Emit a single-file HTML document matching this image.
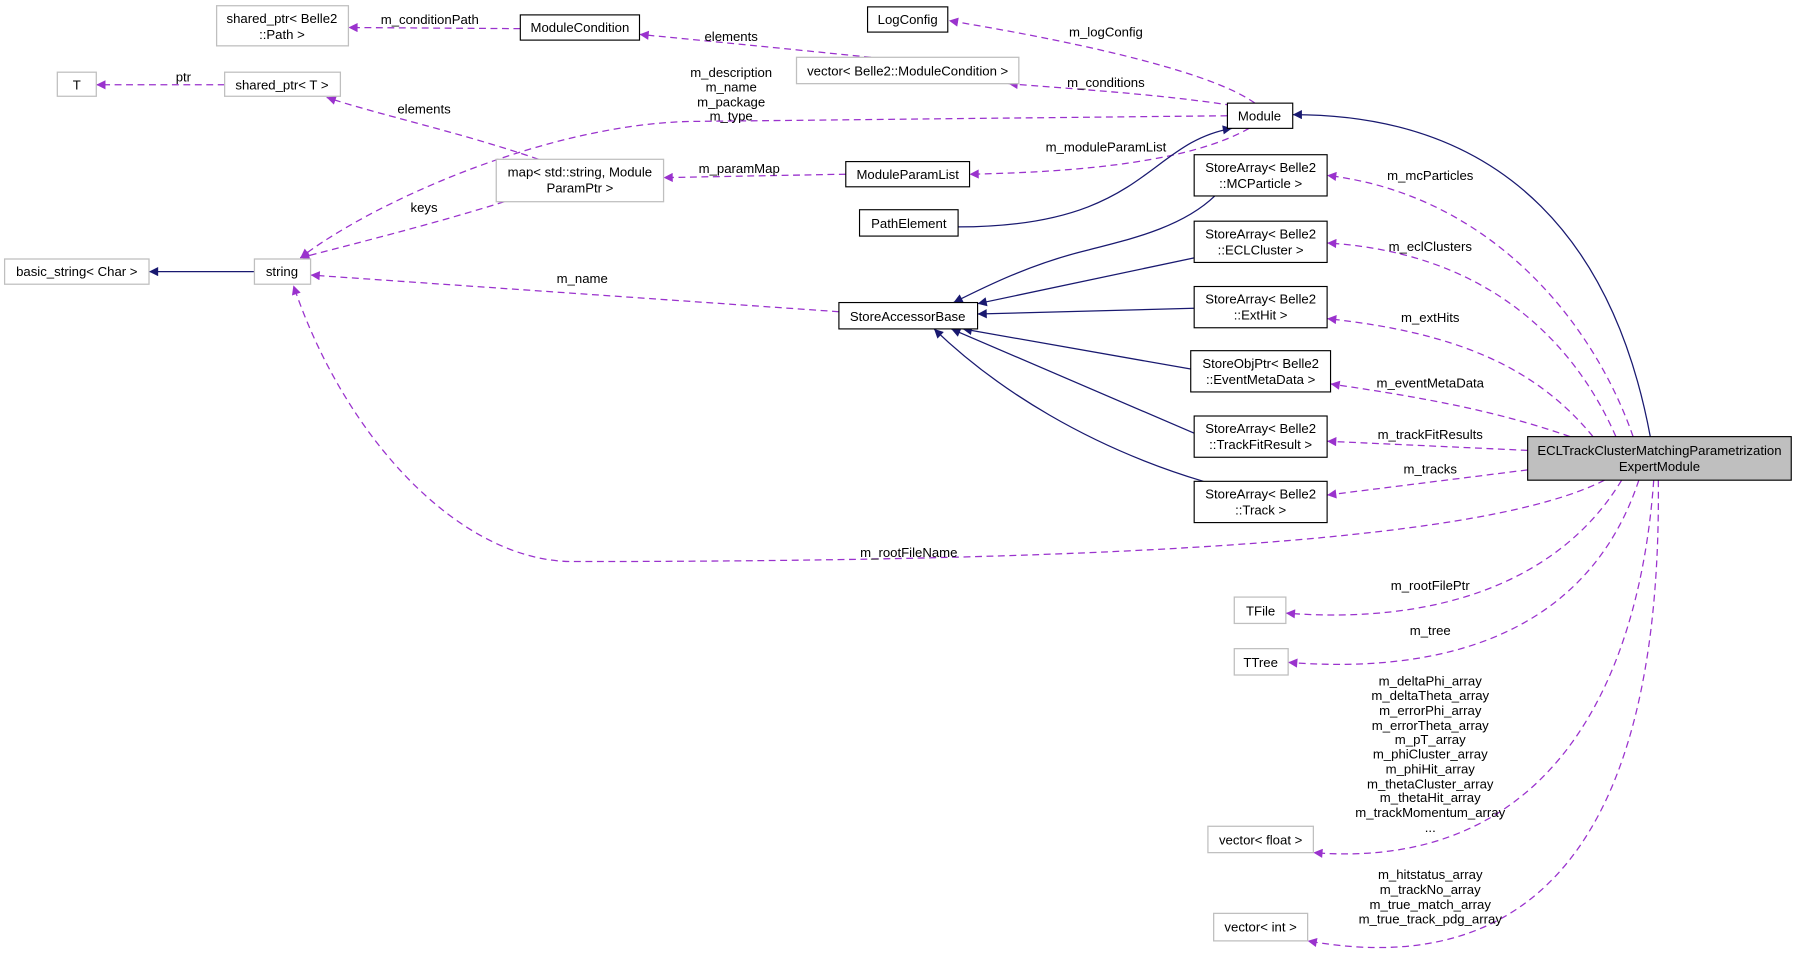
<!DOCTYPE html>
<html><head><meta charset="utf-8"><style>
html,body{margin:0;padding:0;background:#fff;}
svg{display:block;}
text{font-family:"Liberation Sans",Arial,sans-serif;font-size:11.5px;fill:#000;}
.g{fill:#fff;stroke:#bfbfbf;stroke-width:1.1;}
.b{fill:#fff;stroke:#000;stroke-width:1;}
.s{fill:none;stroke:#191970;stroke-width:1.1;}
.d{fill:none;stroke:#9a32cd;stroke-width:1.1;stroke-dasharray:6,4;}
</style></head><body>
<svg width="1797" height="963" viewBox="0 0 1568 840.3" xmlns="http://www.w3.org/2000/svg">
<defs>
<marker id="an" viewBox="0 0 10 10" refX="10" refY="5" markerWidth="10" markerHeight="8" markerUnits="userSpaceOnUse" orient="auto"><path d="M0,0 L10,5 L0,10 z" fill="#191970"/></marker>
<marker id="ap" viewBox="0 0 10 10" refX="10" refY="5" markerWidth="10" markerHeight="8" markerUnits="userSpaceOnUse" orient="auto"><path d="M0,0 L10,5 L0,10 z" fill="#9a32cd"/></marker>
</defs>
<g text-anchor="middle">
<path class="s" marker-end="url(#an)" d="M1440,381 C1410,220 1320,100 1128,100"/>
<path class="d" marker-end="url(#ap)" d="M1071,101 L600,106 C470,110 320,180 262,225"/>
<path class="d" marker-end="url(#ap)" d="M1095,90 C1060,65 960,40 828,18"/>
<path class="d" marker-end="url(#ap)" d="M1075,92 C1010,82 940,78 880,73"/>
<path class="d" marker-end="url(#ap)" d="M1090,112 C1040,140 950,150 846,152"/>
<path class="s" marker-end="url(#an)" d="M836,198 C1000,198 1000,125 1075,112"/>
<path class="d" marker-end="url(#ap)" d="M760,50 C680,42 620,36 558,30"/>
<path class="d" marker-end="url(#ap)" d="M454,25 L304,24"/>
<path class="d" marker-end="url(#ap)" d="M196,74 L84,74"/>
<path class="d" marker-end="url(#ap)" d="M470,139 C400,115 330,100 285,85"/>
<path class="d" marker-end="url(#ap)" d="M440,176 C380,195 300,215 262,225"/>
<path class="d" marker-end="url(#ap)" d="M738,152 L579,155"/>
<path class="s" marker-end="url(#an)" d="M222,237 L130,237"/>
<path class="d" marker-end="url(#ap)" d="M732,272 L271,240"/>
<path class="d" marker-end="url(#ap)" d="M1400,419 C1300,470 1000,490 500,490 C400,490 300,380 256,249"/>
<path class="s" marker-end="url(#an)" d="M1060,171 C1030,200 980,210 950,218 C900,230 860,250 832,264"/>
<path class="s" marker-end="url(#an)" d="M1042,225 L853,265"/>
<path class="s" marker-end="url(#an)" d="M1042,269 L853,274"/>
<path class="s" marker-end="url(#an)" d="M1039,322 L840,287"/>
<path class="s" marker-end="url(#an)" d="M1042,378 L830,287"/>
<path class="s" marker-end="url(#an)" d="M1050,420 C950,390 870,340 815,287"/>
<path class="d" marker-end="url(#ap)" d="M1425,381 C1390,280 1300,170 1158,153"/>
<path class="d" marker-end="url(#ap)" d="M1410,381 C1370,290 1290,220 1158,212"/>
<path class="d" marker-end="url(#ap)" d="M1390,381 C1340,320 1270,290 1158,278"/>
<path class="d" marker-end="url(#ap)" d="M1370,381 C1310,360 1250,348 1161,335"/>
<path class="d" marker-end="url(#ap)" d="M1333,393 L1158,385"/>
<path class="d" marker-end="url(#ap)" d="M1333,410 L1158,432"/>
<path class="d" marker-end="url(#ap)" d="M1415,419 C1360,510 1250,545 1122,535"/>
<path class="d" marker-end="url(#ap)" d="M1430,419 C1390,540 1280,590 1124,578"/>
<path class="d" marker-end="url(#ap)" d="M1443,419 C1430,600 1350,760 1146,744"/>
<path class="d" marker-end="url(#ap)" d="M1447,419 C1450,700 1360,860 1141,821"/>
<rect class="g" x="189" y="5" width="115" height="35"/><text x="246" y="20">shared_ptr&lt; Belle2</text><text x="246" y="34">::Path &gt;</text>
<rect class="g" x="50" y="63" width="34" height="21"/><text x="67" y="78">T</text>
<rect class="g" x="196" y="63" width="101" height="21"/><text x="246" y="78">shared_ptr&lt; T &gt;</text>
<rect class="g" x="4" y="226" width="126" height="22"/><text x="67" y="241">basic_string&lt; Char &gt;</text>
<rect class="g" x="222" y="226" width="49" height="22"/><text x="246" y="241">string</text>
<rect class="b" x="454" y="13" width="104" height="22"/><text x="506" y="28">ModuleCondition</text>
<rect class="b" x="757" y="6" width="70" height="22"/><text x="792" y="21">LogConfig</text>
<rect class="g" x="695" y="50" width="194" height="23"/><text x="792" y="66">vector&lt; Belle2::ModuleCondition &gt;</text>
<rect class="b" x="1071" y="90" width="57" height="22"/><text x="1099" y="105">Module</text>
<rect class="g" x="433" y="139" width="146" height="37"/><text x="506" y="154">map&lt; std::string, Module</text><text x="506" y="168">ParamPtr &gt;</text>
<rect class="b" x="738" y="141" width="108" height="22"/><text x="792" y="156">ModuleParamList</text>
<rect class="b" x="750" y="183" width="86" height="23"/><text x="793" y="199">PathElement</text>
<rect class="b" x="732" y="264" width="121" height="23"/><text x="792" y="280">StoreAccessorBase</text>
<rect class="b" x="1042" y="135" width="116" height="36"/><text x="1100" y="150">StoreArray&lt; Belle2</text><text x="1100" y="164">::MCParticle &gt;</text>
<rect class="b" x="1042" y="193" width="116" height="36"/><text x="1100" y="208">StoreArray&lt; Belle2</text><text x="1100" y="222">::ECLCluster &gt;</text>
<rect class="b" x="1042" y="250" width="116" height="36"/><text x="1100" y="265">StoreArray&lt; Belle2</text><text x="1100" y="279">::ExtHit &gt;</text>
<rect class="b" x="1039" y="306" width="122" height="36"/><text x="1100" y="321">StoreObjPtr&lt; Belle2</text><text x="1100" y="335">::EventMetaData &gt;</text>
<rect class="b" x="1042" y="363" width="116" height="36"/><text x="1100" y="378">StoreArray&lt; Belle2</text><text x="1100" y="392">::TrackFitResult &gt;</text>
<rect class="b" x="1042" y="420" width="116" height="36"/><text x="1100" y="435">StoreArray&lt; Belle2</text><text x="1100" y="449">::Track &gt;</text>
<rect x="1333" y="381" width="230" height="38" fill="#bfbfbf" stroke="#000" stroke-width="1"/><text x="1448" y="397">ECLTrackClusterMatchingParametrization</text><text x="1448" y="411">ExpertModule</text>
<rect class="g" x="1077" y="521" width="45" height="23"/><text x="1100" y="537">TFile</text>
<rect class="g" x="1077" y="566" width="47" height="23"/><text x="1100" y="582">TTree</text>
<rect class="g" x="1054" y="721" width="92" height="23"/><text x="1100" y="737">vector&lt; float &gt;</text>
<rect class="g" x="1059" y="797" width="82" height="24"/><text x="1100" y="813">vector&lt; int &gt;</text>
<text x="375" y="21">m_conditionPath</text>
<text x="638" y="36">elements</text>
<text x="160" y="71">ptr</text>
<text x="965" y="32">m_logConfig</text>
<text x="638" y="67">m_description</text><text x="638" y="80">m_name</text><text x="638" y="93">m_package</text><text x="638" y="105">m_type</text>
<text x="965" y="76">m_conditions</text>
<text x="370" y="99">elements</text>
<text x="965" y="132">m_moduleParamList</text>
<text x="645" y="151">m_paramMap</text>
<text x="370" y="185">keys</text>
<text x="508" y="247">m_name</text>
<text x="1248" y="157">m_mcParticles</text>
<text x="1248" y="219">m_eclClusters</text>
<text x="1248" y="281">m_extHits</text>
<text x="1248" y="338">m_eventMetaData</text>
<text x="1248" y="383">m_trackFitResults</text>
<text x="1248" y="413">m_tracks</text>
<text x="793" y="486">m_rootFileName</text>
<text x="1248" y="515">m_rootFilePtr</text>
<text x="1248" y="554">m_tree</text>
<text x="1248" y="598">m_deltaPhi_array</text><text x="1248" y="611">m_deltaTheta_array</text><text x="1248" y="624">m_errorPhi_array</text><text x="1248" y="637">m_errorTheta_array</text><text x="1248" y="649">m_pT_array</text><text x="1248" y="662">m_phiCluster_array</text><text x="1248" y="675">m_phiHit_array</text><text x="1248" y="688">m_thetaCluster_array</text><text x="1248" y="700">m_thetaHit_array</text><text x="1248" y="713">m_trackMomentum_array</text><text x="1248" y="726">...</text>
<text x="1248" y="767">m_hitstatus_array</text><text x="1248" y="780">m_trackNo_array</text><text x="1248" y="793">m_true_match_array</text><text x="1248" y="806">m_true_track_pdg_array</text>
</g>
</svg>
</body></html>
